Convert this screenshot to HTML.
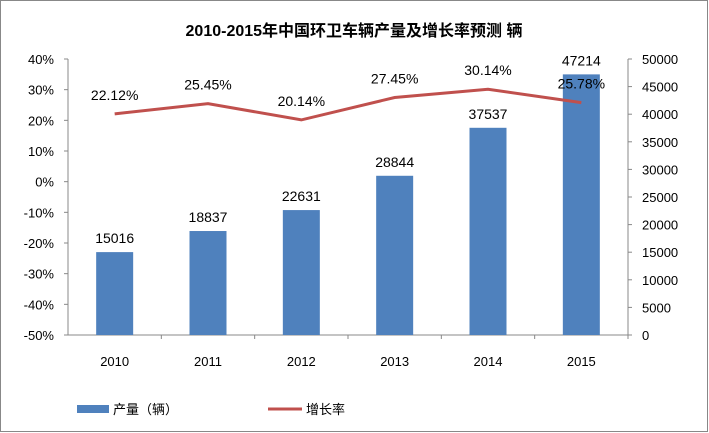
<!DOCTYPE html>
<html><head><meta charset="utf-8"><style>
body{margin:0;background:#fff}
svg{display:block;font-family:"Liberation Sans","Noto Sans CJK SC",sans-serif}
</style></head><body>
<svg width="709" height="433" viewBox="0 0 709 433">
<rect x="0.5" y="0.5" width="707" height="431" fill="#fff" stroke="#888"/>
<text x="354" y="36" text-anchor="middle" font-size="16" font-weight="bold">2010-2015年中国环卫车辆产量及增长率预测 辆</text>
<g id="axes"></g>
<g id="bars"></g>
<g id="line"></g>
<g>
<rect x="77" y="405" width="32" height="8" fill="#4f81bd"/>
<text x="113" y="414" font-size="13">产量（辆）</text>
<line x1="268" y1="409" x2="302" y2="409" stroke="#c0504d" stroke-width="3"/>
<text x="306" y="414" font-size="13">增长率</text>
</g>
</svg>
<script>
const categories=["2010","2011","2012","2013","2014","2015"];
const production=[15016,18837,22631,28844,37537,47214];
const growth=[22.12,25.45,20.14,27.45,30.14,25.78];
const leftTicks=[40,30,20,10,0,-10,-20,-30,-40,-50];
const rightTicks=[50000,45000,40000,35000,30000,25000,20000,15000,10000,5000,0];
const NS="http://www.w3.org/2000/svg";
const X0=68,X1=628,Y0=59,Y1=335;
const band=(X1-X0)/categories.length;
const xc=i=>X0+band*(i+0.5);
const yL=v=>Y0+(40-v)/90*(Y1-Y0);
const yR=v=>Y1-v/50000*(Y1-Y0);
function mk(tag,attrs,parent,txt){const e=document.createElementNS(NS,tag);for(const k in attrs)e.setAttribute(k,attrs[k]);if(txt!==undefined)e.textContent=txt;parent.appendChild(e);return e;}
const axes=document.getElementById('axes');
let a=mk('line',{x1:X0,y1:Y0,x2:X0,y2:Y1,stroke:'#888'},axes);


a=mk('line',{x1:X1,y1:Y0,x2:X1,y2:Y1,stroke:'#888'},axes);


a=mk('line',{x1:X0,y1:Y1,x2:X1,y2:Y1,stroke:'#888'},axes);


leftTicks.forEach(v=>{const y=yL(v);
 mk('line',{x1:X0-4,y1:y,x2:X0,y2:y,stroke:'#888'},axes);
 const t=mk('text',{x:X0-14,y:y+5,'text-anchor':'end','font-size':13},axes,v+'%');
 
 });
rightTicks.forEach(v=>{const y=yR(v);
 mk('line',{x1:X1,y1:y,x2:X1+4,y2:y,stroke:'#888'},axes);
 const t=mk('text',{x:X1+14,y:y+5,'font-size':13},axes,String(v));
 
 });
categories.forEach((c,i)=>{
 mk('line',{x1:X0+band*(i+1),y1:Y1,x2:X0+band*(i+1),y2:Y1+4,stroke:'#888'},axes);
 const t=mk('text',{x:xc(i),y:Y1+31,'text-anchor':'middle','font-size':13},axes,c);
 
 });
const bars=document.getElementById('bars');
production.forEach((v,i)=>{const y=yR(v);
 const r=mk('rect',{x:xc(i)-18.5,y:y,width:37,height:Y1-y,fill:'#4f81bd'},bars);
 
 
 const t=mk('text',{x:xc(i),y:y-9,'text-anchor':'middle','font-size':14},bars,String(v));
 
 });
const lg=document.getElementById('line');
const pts=growth.map((v,i)=>xc(i)+','+yL(v)).join(' ');
const pl=mk('polyline',{points:pts,fill:'none',stroke:'#c0504d','stroke-width':3},lg);


growth.forEach((v,i)=>{
 const t=mk('text',{x:xc(i),y:yL(v)-14,'text-anchor':'middle','font-size':14},lg,v.toFixed(2)+'%');
 
 });
</script>
</body></html>
